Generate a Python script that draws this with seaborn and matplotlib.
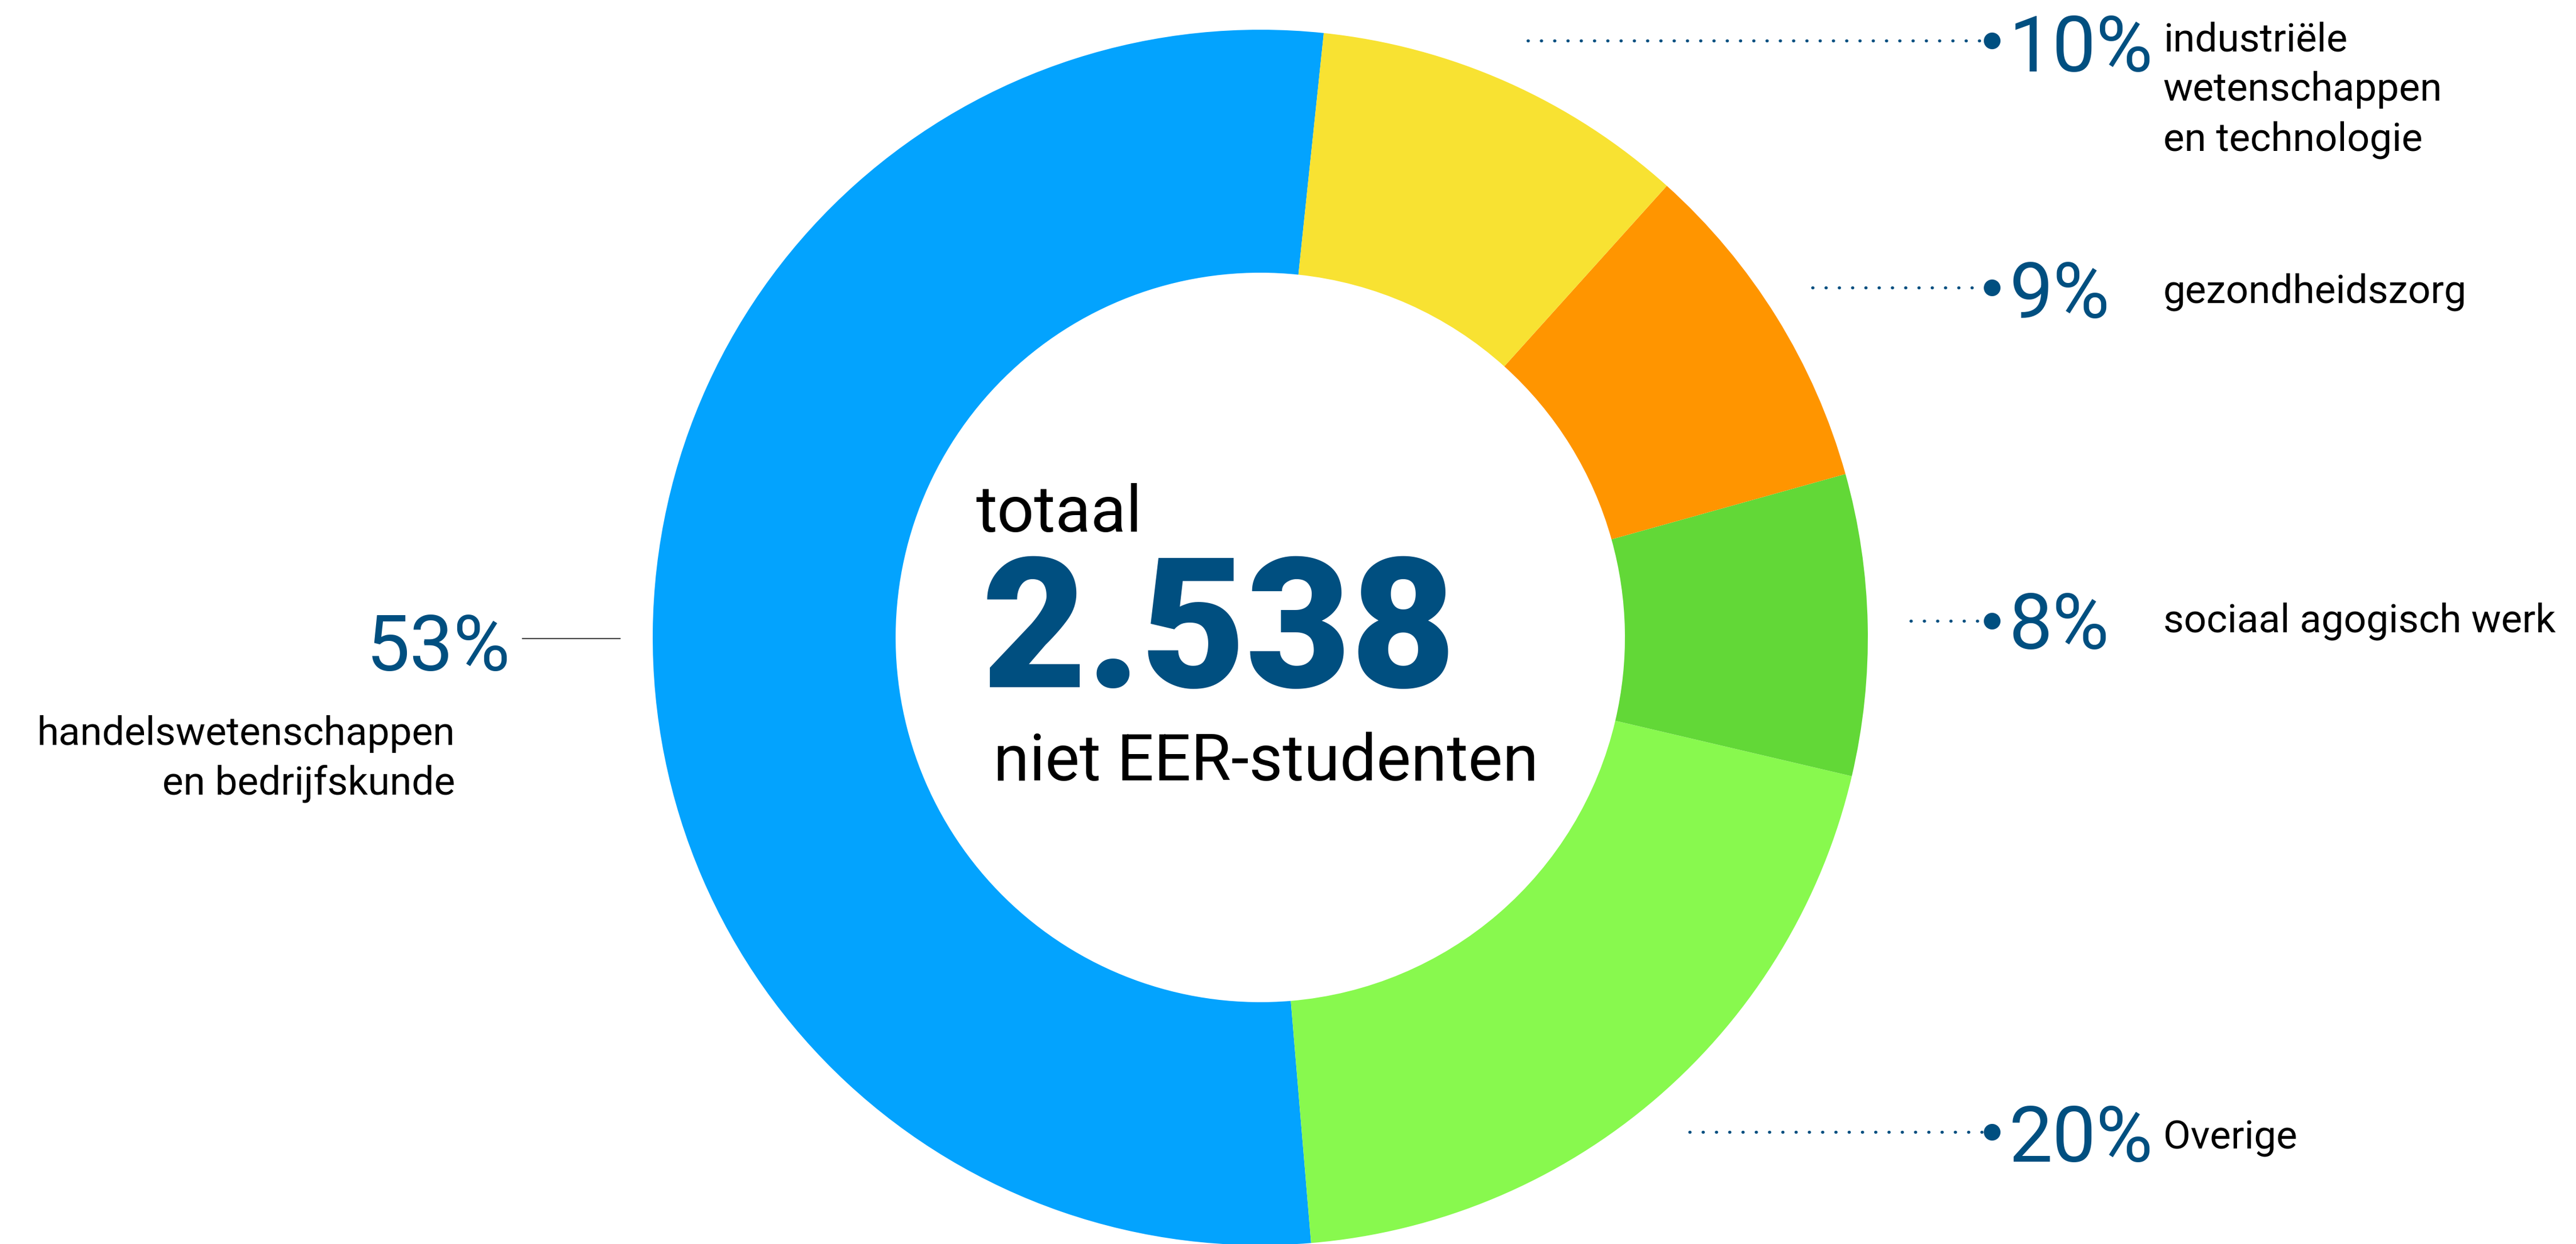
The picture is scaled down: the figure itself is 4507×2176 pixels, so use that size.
import matplotlib
matplotlib.use("Agg")
import matplotlib.pyplot as plt
import seaborn as sns

# data (in the order the wedges are drawn, counter-clockwise from the top)
categories = ["handelswetenschappen\nen bedrijfskunde", "Overige", "sociaal agogisch werk",
              "gezondheidszorg", "industriële\nwetenschappen\nen technologie"]
percentages = [53, 20, 8, 9, 10]
colors = ["#03A3FE", "#88F94E", "#62D837", "#FF9500", "#F8E232"]
total_label = "2.538"
top_label = "totaal"
bottom_label = "niet EER-studenten"

W, H = 4507, 2176
navy = "#004F80"

sns.set_theme(style="white")
plt.rcParams["font.family"] = ["Roboto", "DejaVu Sans"]

fig = plt.figure(figsize=(W / 100, H / 100), dpi=100)
ax = fig.add_axes([0, 0, 1, 1])

# donut
cx, cy, r_out, r_in = 2205, H - 1115, 1063, 638
ax.pie(percentages, colors=colors, startangle=84, counterclock=True,
       radius=r_out, center=(cx, cy), frame=True,
       wedgeprops=dict(width=r_out - r_in, linewidth=0))
ax.set_xlim(0, W)
ax.set_ylim(0, H)
ax.axis("off")

# centre text
ax.text(1707, H - 930, top_label, fontsize=82, color="black", ha="left", va="baseline")
ax.text(1718, H - 1202, total_label, fontsize=228, fontweight="heavy", color=navy,
        ha="left", va="baseline")
ax.text(1738, H - 1365, bottom_label, fontsize=82, color="black", ha="left", va="baseline")

label_size = 50
pct_size = 98

# right-hand labels: (dotted line start x, line y, percent baseline, label baseline)
right_layout = {
    "Overige": (2956, 1980, 2032, 2010),
    "sociaal agogisch werk": (3343, 1086, 1135, 1106),
    "gezondheidszorg": (3171, 503, 556, 529),
    "industriële\nwetenschappen\nen technologie": (2673, 71, 125, 89),
}
dot_end = 3485
for cat, pct in zip(categories, percentages):
    if cat not in right_layout:
        continue
    x0, ly, pb, tb = right_layout[cat]
    ax.plot([x0, dot_end], [H - ly, H - ly], color=navy, lw=3.8,
            linestyle=(0, (0.1, 4.3)), dash_capstyle="round")
    ax.plot([dot_end], [H - ly], marker="o", ms=21, color=navy, mew=0)
    ax.text(3515, H - pb, f"{pct}%", fontsize=pct_size, fontweight="normal", color=navy,
            ha="left", va="baseline")
    for i, line in enumerate(cat.split("\n")):
        ax.text(3785, H - tb - i * 87, line, fontsize=label_size, color="black",
                ha="left", va="baseline")

# left label
ax.text(893, H - 1173, f"{percentages[0]}%", fontsize=pct_size, fontweight="normal", color=navy,
        ha="right", va="baseline")
ax.plot([914, 1085], [H - 1117, H - 1117], color="#444444", lw=1.5)
for i, line in enumerate(categories[0].split("\n")):
    ax.text(796, H - 1303 - i * 87, line, fontsize=label_size, color="black",
            ha="right", va="baseline")

fig.savefig("out.png", dpi=100, facecolor="white")
